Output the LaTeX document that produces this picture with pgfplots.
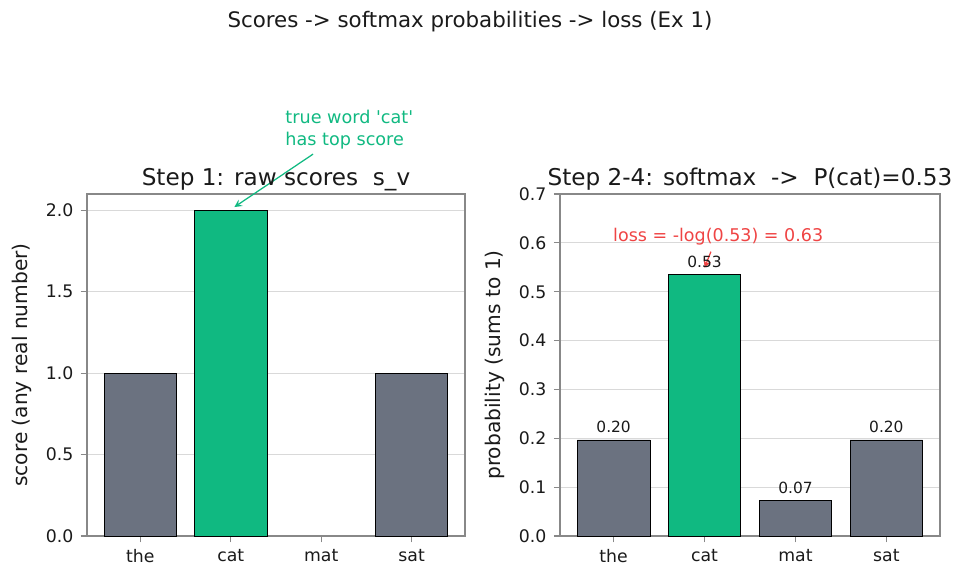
\documentclass[border=0pt]{standalone}
\usepackage{pgfplots}
\pgfplotsset{compat=1.18}
\usepackage{fontspec}
\setmainfont{DejaVu Sans}
\definecolor{bargray}{HTML}{6B7280}
\definecolor{bargreen}{HTML}{10B981}
\definecolor{annred}{HTML}{EF4444}
\definecolor{framegray}{HTML}{888888}
\definecolor{gridgray}{HTML}{D9D9D9}
\definecolor{txt}{HTML}{1A1A1A}
\pgfplotsset{
 myaxis/.style={
  scale only axis, height=164.16pt,
  ybar, bar shift=0pt, bar width=0.8,
  xmin=-0.59, xmax=3.59,
  xtick={0,1,2,3}, xticklabels={the,cat,mat,sat},
  ymin=0,
  axis line style={framegray, line width=0.6pt},
  tick style={framegray, line width=0.6pt},
  tick align=outside, major tick length=3pt,
  tick pos=left,
  ymajorgrids, grid style={gridgray, line width=0.4pt},
  tick label style={font=\fontsize{8.3}{9}\selectfont, text=txt},
  label style={font=\fontsize{9.7}{11}\selectfont, text=txt},
  title style={font=\fontsize{11.1}{13}\selectfont, text=txt, at={(0.5,1)}, anchor=base, yshift=-1.7pt},
  /pgf/number format/assume math mode=true,
  clip=false,
 }
}
\begin{document}
\begin{tikzpicture}
\path[use as bounding box] (-41.76pt,-22.08pt) rectangle (421.92pt,257.28pt);
\begin{axis}[myaxis, width=181.44pt,
  ymax=2.1, ytick={0,0.5,1,1.5,2},
  yticklabel style={/pgf/number format/fixed,/pgf/number format/fixed zerofill,/pgf/number format/precision=1},
  ylabel={score (any real number)},
  title={Step 1: raw scores\ \ s\_v}]
\addplot[fill=bargray, draw=black, line width=0.4pt] coordinates {(0,1) (3,1)};
\addplot[fill=bargreen, draw=black, line width=0.4pt] coordinates {(1,2)};
\node[anchor=south west, align=left, text=bargreen, inner sep=0pt, font=\fontsize{8.45}{10.6}\selectfont] at (axis cs:1.6,2.37) {true word \textquotesingle cat\textquotesingle\\has top score};
\draw[bargreen, -stealth, line width=0.6pt] (axis cs:1.91,2.345) -- (axis cs:1.04,2.02);
\end{axis}
\begin{axis}[myaxis, xshift=227.04pt, width=182.4pt,
  ymax=0.7, ytick={0,0.1,0.2,0.3,0.4,0.5,0.6,0.7},
  yticklabel style={/pgf/number format/fixed,/pgf/number format/fixed zerofill,/pgf/number format/precision=1},
  ylabel={probability (sums to 1)},
  title={Step 2-4: softmax\ \ ->\ \ P(cat)=0.53},
  nodes near coords,
  nodes near coords style={font=\fontsize{7.4}{8}\selectfont, text=txt, /pgf/number format/fixed,/pgf/number format/fixed zerofill,/pgf/number format/precision=2}]
\addplot[fill=bargray, draw=black, line width=0.4pt] coordinates {(0,0.1966) (2,0.0723) (3,0.1966)};
\addplot[fill=bargreen, draw=black, line width=0.4pt] coordinates {(1,0.5345)};
\node[anchor=south, text=annred, inner sep=0pt, font=\fontsize{8.4}{9}\selectfont] at (axis cs:1.15,0.595) {loss = -log(0.53) = 0.63};
\draw[annred, -stealth, line width=0.6pt] (axis cs:1.07,0.582) -- (axis cs:1.0,0.549);
\end{axis}
\node[font=\fontsize{10.25}{12}\selectfont, text=txt] at (183.84pt,246.72pt) {Scores -> softmax probabilities -> loss (Ex 1)};
\end{tikzpicture}
\end{document}
